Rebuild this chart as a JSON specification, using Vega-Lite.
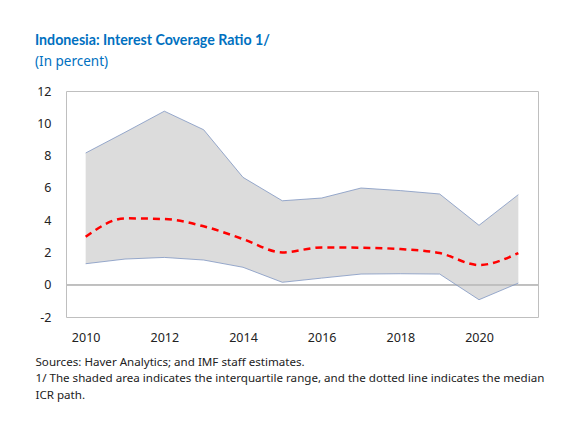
{
  "$schema": "https://vega.github.io/schema/vega-lite/v6.json",
  "autosize": "none",
  "width": 472,
  "height": 226,
  "padding": {"left": 66, "top": 91, "right": 23, "bottom": 108},
  "background": "white",
  "title": {
    "text": "Indonesia: Interest Coverage Ratio 1/",
    "subtitle": "(In percent)",
    "anchor": "start",
    "frame": "group",
    "dx": -31,
    "offset": 17,
    "font": "Lato",
    "fontSize": 14.2,
    "fontWeight": "bold",
    "color": "#0070C0",
    "subtitleFont": "Noto Sans",
    "subtitleFontSize": 13.5,
    "subtitleColor": "#0070C0",
    "subtitlePadding": 6
  },
  "data": {
    "values": [
      {"year": 2010, "lo": 1.30, "med": 2.97, "hi": 8.16},
      {"year": 2011, "lo": 1.59, "med": 4.11, "hi": 9.44},
      {"year": 2012, "lo": 1.69, "med": 4.07, "hi": 10.75},
      {"year": 2013, "lo": 1.53, "med": 3.62, "hi": 9.60},
      {"year": 2014, "lo": 1.08, "med": 2.83, "hi": 6.65},
      {"year": 2015, "lo": 0.15, "med": 2.00, "hi": 5.20},
      {"year": 2016, "lo": 0.41, "med": 2.31, "hi": 5.37},
      {"year": 2017, "lo": 0.66, "med": 2.29, "hi": 5.99},
      {"year": 2018, "lo": 0.68, "med": 2.21, "hi": 5.83},
      {"year": 2019, "lo": 0.66, "med": 1.96, "hi": 5.62},
      {"year": 2020, "lo": -0.93, "med": 1.22, "hi": 3.68},
      {"year": 2021, "lo": 0.10, "med": 1.96, "hi": 5.58}
    ]
  },
  "encoding": {
    "x": {
      "field": "year",
      "type": "quantitative",
      "scale": {"domain": [2009.5, 2021.5], "nice": false, "zero": false},
      "axis": {
        "values": [2010, 2012, 2014, 2016, 2018, 2020],
        "format": "d",
        "labelPadding": 14,
        "title": [
          "Sources: Haver Analytics; and IMF staff estimates.",
          "1/ The shaded area indicates the interquartile range, and the dotted line indicates the median",
          "ICR path."
        ],
        "titleFont": "Noto Sans",
        "titleFontSize": 11.6,
        "titleFontWeight": "normal",
        "titleColor": "#222222",
        "titleAnchor": "start",
        "titleAlign": "left",
        "titleBaseline": "top",
        "titleX": -31,
        "titleY": 39,
        "titleLineHeight": 16.5
      }
    }
  },
  "layer": [
    {
      "mark": {"type": "area", "color": "#DCDCDC", "opacity": 1},
      "encoding": {
        "y": {
          "field": "lo",
          "type": "quantitative",
          "scale": {"domain": [-2, 12], "nice": false},
          "axis": {
            "values": [-2, 0, 2, 4, 6, 8, 10, 12],
            "title": null,
            "labelOverlap": false,
            "labelExpr": "datum.value < 0 ? '-' + abs(datum.value) : '' + datum.value"
          }
        },
        "y2": {"field": "hi"}
      }
    },
    {
      "mark": {"type": "rule", "color": "#BFBFBF", "strokeWidth": 1},
      "encoding": {
        "x": {"datum": 2009.5, "type": "quantitative"},
        "x2": {"datum": 2021.5},
        "y": {"datum": 0, "type": "quantitative", "axis": null}
      }
    },
    {
      "mark": {"type": "line", "color": "#7F95C2", "strokeWidth": 0.8},
      "encoding": {"y": {"field": "hi", "type": "quantitative", "axis": null}}
    },
    {
      "mark": {"type": "line", "color": "#7F95C2", "strokeWidth": 0.8},
      "encoding": {"y": {"field": "lo", "type": "quantitative", "axis": null}}
    },
    {
      "mark": {"type": "line", "color": "#FF0000", "strokeWidth": 2.5, "strokeDash": [7, 5], "interpolate": "monotone"},
      "encoding": {"y": {"field": "med", "type": "quantitative", "axis": null}}
    }
  ],
  "resolve": {"axis": {"y": "independent"}},
  "config": {
    "view": {"stroke": "#BFBFBF", "strokeWidth": 1},
    "axis": {
      "labelOverlap": false,
      "labelBound": false,
      "grid": false,
      "ticks": false,
      "domain": false,
      "labelFont": "Noto Sans",
      "labelFontSize": 12.5,
      "labelColor": "#222222"
    },
    "axisY": {"labelPadding": 15, "title": null}
  }
}
